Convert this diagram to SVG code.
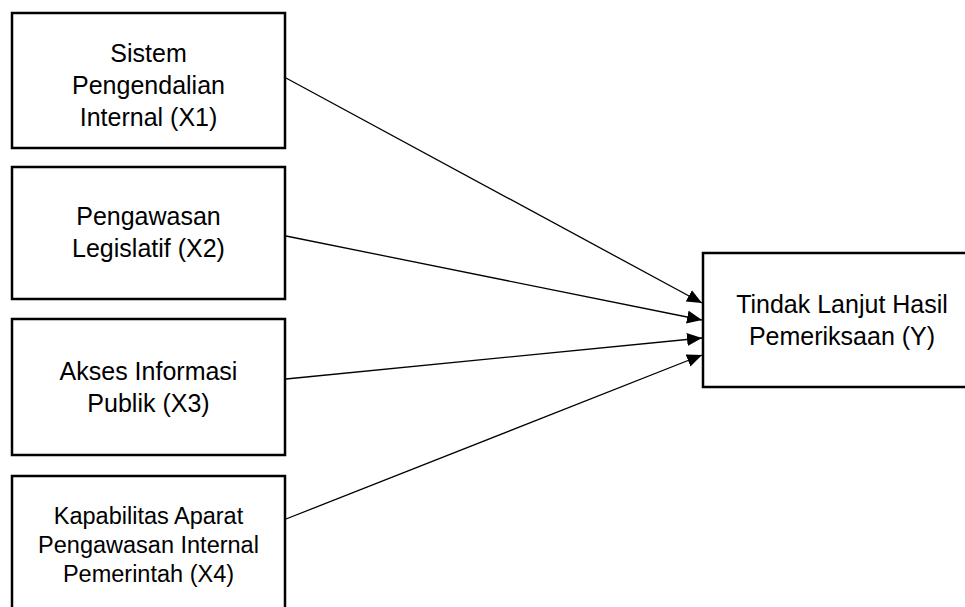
<svg xmlns="http://www.w3.org/2000/svg" width="965" height="607" viewBox="0 0 965 607">
<style>
.box{fill:#fff;stroke:#000;stroke-width:2.5}
.t{font-family:"Liberation Sans",Arial,sans-serif;font-size:25px;fill:#000;text-anchor:middle}
.s{font-size:23.5px}
.c{stroke:#000;stroke-width:1.3;fill:none;marker-end:url(#ah)}
</style>
<defs>
<marker id="ah" markerUnits="userSpaceOnUse" markerWidth="16" markerHeight="14" refX="15" refY="6.5" orient="auto">
<path d="M0,0 L15,6.5 L0,13 z" fill="#000"/>
</marker>
</defs>
<rect width="965" height="607" fill="#fff"/>
<g id="x1">
<rect class="box" x="12" y="13" width="273" height="135"/>
<text class="t" x="148.5" y="62">Sistem</text>
<text class="t" x="148.5" y="94">Pengendalian</text>
<text class="t" x="148.5" y="126">Internal (X1)</text>
</g>
<g id="x2">
<rect class="box" x="12" y="167" width="273" height="132"/>
<text class="t" x="148.5" y="225">Pengawasan</text>
<text class="t" x="148.5" y="257">Legislatif (X2)</text>
</g>
<g id="x3">
<rect class="box" x="12" y="319" width="273" height="136"/>
<text class="t" x="148.5" y="380">Akses Informasi</text>
<text class="t" x="148.5" y="412">Publik (X3)</text>
</g>
<g id="x4">
<rect class="box" x="12" y="476" width="273" height="145"/>
<text class="t s" x="148.5" y="524">Kapabilitas Aparat</text>
<text class="t s" x="148.5" y="553">Pengawasan Internal</text>
<text class="t s" x="148.5" y="582">Pemerintah (X4)</text>
</g>
<g id="y">
<rect class="box" x="703" y="253" width="280" height="134"/>
<text class="t" x="842" y="313">Tindak Lanjut Hasil</text>
<text class="t" x="842" y="345">Pemeriksaan (Y)</text>
</g>
<g id="connectors">
<line class="c" x1="286" y1="78" x2="702" y2="303"/>
<line class="c" x1="286" y1="236" x2="702" y2="320"/>
<line class="c" x1="286" y1="379" x2="702" y2="338"/>
<line class="c" x1="286" y1="519" x2="702" y2="355"/>
</g>
</svg>
